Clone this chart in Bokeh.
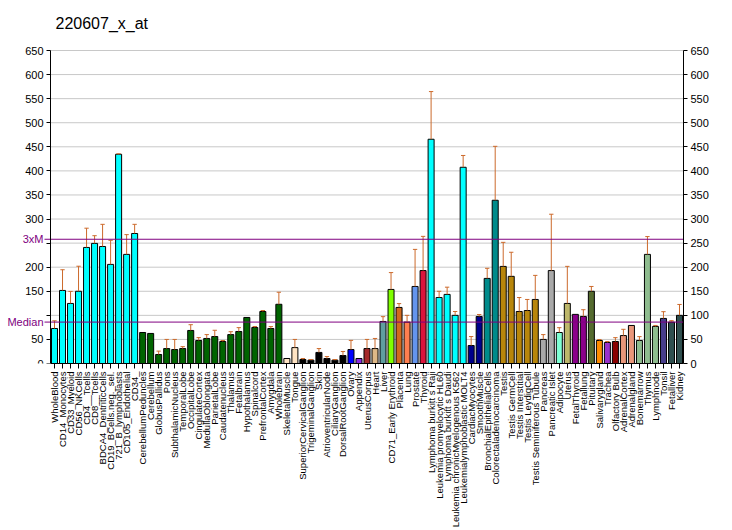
import math
from bokeh.plotting import figure
from bokeh.models import Range1d, LinearAxis, FixedTicker, Label, ColumnDataSource
from bokeh.embed import file_html
from bokeh.resources import INLINE

names = ["WholeBlood", "CD14_Monocytes", "CD33_Myeloid", "CD56_NKCells", "CD4__Tcells", "CD8__Tcells",
         "BDCA4_DentriticCells", "CD19_BCells.neg._sel.", "721_B_lymphoblasts", "CD105_Endothelial", "CD34_",
         "CerebellumPeduncles", "Cerebellum", "GlobusPallidus", "Pons", "SubthalamicNucleus", "TemporalLobe",
         "OccipitalLobe", "CingulateCortex", "MedullaOblongata", "ParietalLobe", "Caudatenucleus", "Thalamus",
         "Fetalbrain", "Hypothalamus", "Spinalcord", "PrefrontalCortex", "Amygdala", "Wholebrain",
         "SkeletalMuscle", "Tongue", "SuperiorCervicalGanglion", "TrigeminalGanglion", "Skin",
         "AtrioventricularNode", "CiliaryGanglion", "DorsalRootGanglion", "Ovary", "Appendix", "UterusCorpus",
         "Heart", "Liver", "CD71_Early Erythroid", "Placenta", "Lung", "Prostate", "Thyroid",
         "Lymphoma burkitt s Raji", "Leukemia promyelocytic HL60", "Lymphoma burkitt s Daudi",
         "Leukemia chronicMyelogenous K562", "Leukemialymphoblastic MOLT4", "CardiacMyocytes", "SmoothMuscle",
         "BronchialEpithelialCells", "Colorectaladenocarcinoma", "Testis", "Testis GermCell", "Testis Interstitial",
         "Testis LeydigCell", "Testis Seminiferous Tubule", "Pancreas", "Pancreatic Islet", "Adipocyte", "Uterus",
         "FetalThyroid", "Fetallung", "Pituitary", "Salivarygland", "Trachea", "Olfactory Bulb", "AdrenalCortex",
         "Adrenalgland", "Bonemarrow", "Thymus", "Lymphnode", "Tonsil", "Fetalliver", "Kidney"]

values = [72.7, 151.7, 124.7, 150, 241, 249.4, 243, 205.8, 434.5, 226.6, 270,
          64.4, 62.4, 18.7, 31, 29, 31, 68.6, 47.8, 52, 56, 45.7, 60, 66.5, 95.6, 74.8, 108, 72.7, 123,
          10.4, 33, 8.3, 7, 23, 10.4, 7, 16.6, 29, 10.4, 31, 31, 87.3, 153.8, 116.4, 86, 160, 193,
          465.7, 137, 143.5, 100, 407.5, 37.4, 97.7, 176.7, 339,
          201.6, 181, 108, 110, 133, 50, 193, 64.4, 124.7, 102, 97.7, 150, 47.8, 43.7, 45.7, 58, 79, 47.8,
          226.6, 77, 93.6, 86, 100]

errors = [16, 43, 25, 52, 40, 16, 46, 50, 1, 41, 19,
          0, 0, 7, 19, 21, 4, 12, 6, 8, 13, 2, 6, 8, 0, 2, 2, 4, 25,
          0, 17, 2, 1.3, 8, 4, 1.3, 8.4, 19, 0, 19, 21, 10, 35, 8, 14, 77, 71,
          99, 13, 15, 8, 24.5, 18.6, 4, 21, 112,
          50, 50, 29, 23, 50, 10, 117, 10, 77, 0, 14, 10, 2, 2, 8, 13, 0, 8,
          37, 2, 14, 3, 22.6]

colors = (["#00FFFF"] * 11 + ["#006400"] * 18 +
          ["#FFE4C4", "#FFE4C4"] + ["#000000"] * 6 +
          ["#0000FF", "#8A2BE2", "#A52A2A", "#DEB887", "#5F9EA0", "#7FFF00", "#D2691E", "#FF7F50",
           "#6495ED", "#DC143C"] +
          ["#00FFFF"] * 5 + ["#00008B", "#00008B", "#008B8B", "#008B8B"] + ["#B8860B"] * 5 +
          ["#A9A9A9", "#A9A9A9", "#7FFFD4", "#BDB76B", "#8B008B", "#8B008B", "#556B2F", "#FF8C00",
           "#9932CC", "#8B0000", "#E9967A", "#E9967A", "#8FBC8F", "#8FBC8F", "#8FBC8F", "#483D8B",
           "#2F4F4F", "#2F4F4F"])

title_text = "220607_x_at"
median_value = 86
three_xm_value = 258
y_ticks = list(range(0, 651, 50))
y_max = 650

FONT = "Liberation Sans"
PURPLE = "#800080"
ERR = "#CC6A2C"

# ---- layout (pixels) ----
FRAME_RIGHT = 683      # right plot edge
PLOT_LEFT = 50         # left axis position
PLOT_TOP = 50          # y of 650
PLOT_BOTTOM = 363      # y of 0
n = len(names)
px_x = (FRAME_RIGHT - PLOT_LEFT) / n
px_y = (PLOT_BOTTOM - PLOT_TOP) / y_max
x_lo = 0.5 - PLOT_LEFT / px_x
x_hi = n + 0.5
y_hi = PLOT_BOTTOM / px_y

xs = list(range(1, n + 1))
src = ColumnDataSource(dict(x=xs, top=values, color=colors))

ex = [x for x, e in zip(xs, errors) if e > 0]
ev0 = [v for v, e in zip(values, errors) if e > 0]
ev1 = [v + e for v, e in zip(values, errors) if e > 0]
esrc = ColumnDataSource(dict(x=ex, y0=ev0, y1=ev1, xl=[x - 0.27 for x in ex], xr=[x + 0.27 for x in ex]))

p = figure(width=FRAME_RIGHT + 41, height=530, output_backend="svg", toolbar_location=None,
           x_range=Range1d(x_lo, x_hi), y_range=Range1d(0, y_hi),
           min_border_left=0, min_border_right=41, min_border_top=0, min_border_bottom=530 - PLOT_BOTTOM)
p.outline_line_color = None
p.background_fill_color = "white"
p.xgrid.visible = False
p.ygrid.visible = False

# grid lines over the plot area only
g_ticks = [t for t in y_ticks if t > 0]
p.segment(x0=[0.5] * len(g_ticks), x1=[x_hi] * len(g_ticks), y0=g_ticks, y1=g_ticks,
          line_color="#C8C8C8", line_width=1)

yl = p.yaxis[0]
yl.fixed_location = 0.5
yl.bounds = (0, y_max)
yl.ticker = FixedTicker(ticks=y_ticks)
yl.major_label_overrides = {250: "", 100: ""}

yr = LinearAxis(ticker=FixedTicker(ticks=y_ticks), bounds=(0, y_max))
p.add_layout(yr, "right")

for ax in (yl, yr):
    ax.axis_line_color = "black"
    ax.major_tick_line_color = "black"
    ax.major_tick_out = 4
    ax.major_tick_in = 0
    ax.minor_tick_line_color = None
    ax.major_label_standoff = 3
    ax.major_label_text_font = FONT
    ax.major_label_text_font_size = "11px"
    ax.major_label_text_color = "black"

xa = p.xaxis[0]
xa.bounds = (0.5, x_hi)
xa.ticker = FixedTicker(ticks=xs)
xa.major_label_overrides = {x: nm for x, nm in zip(xs, names)}
xa.major_label_orientation = math.pi / 2
xa.major_label_text_font = FONT
xa.major_label_text_font_size = "9.5px"
xa.major_label_text_color = "black"
xa.major_label_standoff = 3
xa.major_tick_out = 5
xa.major_tick_in = 0
xa.major_tick_line_color = "black"
xa.minor_tick_line_color = None
xa.axis_line_color = "black"

p.vbar(x="x", top="top", bottom=0, width=0.75, fill_color="color", line_color="black", line_width=1, source=src)
p.segment(x0="x", y0="y0", x1="x", y1="y1", line_color=ERR, line_width=1, source=esrc)
p.segment(x0="xl", y0="y1", x1="xr", y1="y1", line_color=ERR, line_width=1, source=esrc)

ref_vals = [median_value, three_xm_value]
p.segment(x0=[0.5 - 6 / px_x] * 2, x1=[x_hi] * 2, y0=ref_vals, y1=ref_vals, line_color=PURPLE, line_width=1)

for txt, loc in (("3xM", three_xm_value), ("Median", median_value)):
    p.add_layout(Label(x=0.5, y=loc, x_offset=-7, text=txt, text_align="right", text_baseline="middle",
                       text_color=PURPLE, text_font=FONT, text_font_size="11px"))

p.add_layout(Label(x=x_lo + 55 / px_x, y=(PLOT_BOTTOM - 22.5) / px_y, text=title_text,
                   text_align="left", text_baseline="middle", text_color="black",
                   text_font=FONT, text_font_size="16px"))

open("out.html", "w").write(file_html(p, INLINE))
